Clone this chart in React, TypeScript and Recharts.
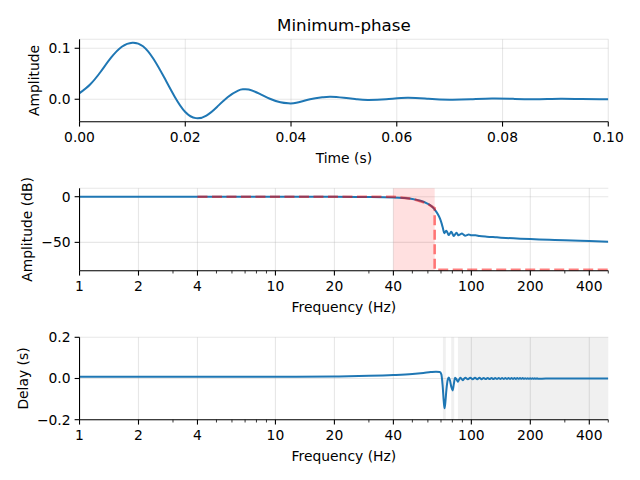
import React from "react";
import {
  LineChart,
  Line,
  XAxis,
  YAxis,
  CartesianGrid,
  ReferenceArea,
  Label,
} from "recharts";

// impulse response
const timeS = [
  0, 0.002, 0.004, 0.006, 0.008, 0.01, 0.012, 0.014, 0.016, 0.018, 0.02, 0.022,
  0.024, 0.026, 0.028, 0.03, 0.031, 0.032, 0.034, 0.036, 0.038, 0.0395, 0.041,
  0.0436, 0.046, 0.0475, 0.05, 0.0525, 0.0545, 0.058, 0.062, 0.066, 0.07, 0.074,
  0.078, 0.082, 0.086, 0.091, 0.095, 0.1,
];
const impulseAmp = [
  0.012, 0.029, 0.054, 0.082, 0.103, 0.111, 0.104, 0.079, 0.043, 0.005, -0.025,
  -0.037, -0.032, -0.015, 0.004, 0.017, 0.0195, 0.019, 0.011, 0.001, -0.006,
  -0.008, -0.007, 0.0, 0.004, 0.005, 0.003, 0.0, -0.0014, 0.0, 0.003, 0.001,
  -0.0008, 0.0, 0.0015, 0.0008, 0.0, 0.001, 0.0003, 0.0,
];
const timeTicks = [0, 0.02, 0.04, 0.06, 0.08, 0.1];
const impulseTicks = [0, 0.1];

// magnitude response
const magFreqHz = [
  1, 10, 20, 30, 40, 45, 50, 55, 59.3, 62, 64.1, 66, 68, 69.5, 70.7, 71.8, 72.7,
  73.6, 74.5, 75.6, 76.7, 77.9, 79, 80.1, 81.2, 82.5, 83.9, 85, 86, 87.7, 89.5,
  91.2, 93, 95, 97, 100, 105, 110, 120, 135, 150, 178, 200, 250, 300, 400, 500,
];
const magDb = [
  0, 0, -0.1, -0.3, -0.8, -1.4, -2.4, -4.5, -7.2, -9.6, -12.5, -16, -20.5, -25,
  -30, -35.5, -40, -38.5, -37.3, -39.5, -42, -40, -38.4, -40.5, -43, -41.5,
  -39.5, -41, -42.3, -41.2, -40.2, -41.5, -42.7, -42, -41.3, -42.3, -42.2, -43,
  -43.8, -44.5, -45.2, -46, -46.4, -47.2, -47.8, -48.6, -49.2,
];
const idealFreqHz = [4, 40, 50, 59.3, 65, 65, 500];
const idealDb = [0, 0, -2.4, -7.2, -12.7, -80, -80];
const transitionBandHz = [40, 65];
const dbTicks = [-50, 0];

// group delay
const delayFreqHz = [
  1, 10, 20, 30, 40, 50, 57, 62, 66, 69, 70.3, 71.3, 72.3, 73, 73.7, 74.6, 75.8,
  76.7, 77.8, 79, 80.2, 81.3, 82.6, 84, 85.4, 86.6, 87.8, 89.1, 90.4, 91.8, 93.2,
  96, 98.8, 101.6, 104.4, 107.2, 110, 112.8, 115.6, 118.4, 121.2, 124, 126.8,
  129.6, 132.4, 135.2, 138, 140.8, 143.6, 146.4, 149.2, 152, 154.8, 157.6, 160.4,
  163.2, 166, 168.8, 171.6, 174.4, 177.2, 180, 182.8, 185.6, 188.4, 191.2, 194,
  196.8, 199.6, 202.4, 205.2, 208, 210.8, 213.6, 216.4, 219.2, 240, 300, 400,
  500,
];
const delayS = [
  0.008, 0.0085, 0.01, 0.013, 0.017, 0.022, 0.027, 0.031, 0.033, 0.032, 0.02,
  -0.03, -0.11, -0.145, -0.115, -0.055, -0.005, 0.005, -0.01, -0.04, -0.058,
  -0.03, 0.004, -0.004, -0.016, -0.005, 0.004, -0.002, -0.008, -0.001, 0.004,
  -0.004, 0.004, -0.004, 0.0035, -0.0035, 0.0035, -0.0035, 0.003, -0.003, 0.003,
  -0.003, 0.003, -0.003, 0.0025, -0.0025, 0.0025, -0.0025, 0.002, -0.002, 0.002,
  -0.002, 0.002, -0.002, 0.002, -0.002, 0.002, -0.002, 0.0018, -0.0018, 0.0018,
  -0.0018, 0.0018, -0.0018, 0.0016, -0.0016, 0.0016, -0.0016, 0.0016, -0.0016,
  0.0015, -0.0015, 0.0015, -0.0015, 0.0015, -0.0015, 0, 0, 0, 0,
];
const lowGainBandsHz = [
  [71.6, 74.1],
  [78.9, 81.8],
  [85.4, 500],
];
const delayTicks = [-0.2, 0, 0.2];

const freqMajorTicks = [1, 2, 4, 10, 20, 40, 100, 200, 400];
const freqMinorTicks = [3, 5, 6, 7, 8, 9, 30, 50, 60, 70, 80, 90, 300, 500];

const impulseRows = timeS.map((t, i) => ({ t, amp: impulseAmp[i] }));
const magRows = magFreqHz.map((f, i) => ({ f, db: magDb[i] }));
const idealRows = idealFreqHz.map((f, i) => ({ f, db: idealDb[i] }));
const delayRows = delayFreqHz.map((f, i) => ({ f, d: delayS[i] }));
const freqAllTicks = [...freqMajorTicks, ...freqMinorTicks].sort((a, b) => a - b);

const FONT = '"DejaVu Sans", sans-serif';
const FS = 13.9;
const BLUE = "#1f77b4";
const PLOT_H = 82.4;
const XAX_H = 45;
const RIGHT = 31.7;
const YAX_W = 79.5;

const minus = (s: string) => s.replace("-", "\u2212");

function makeXTick(majors: number[], format: (v: number) => string) {
  return (props: any) => {
    const { x, y, payload } = props;
    const v = payload.value;
    const major = majors.some((m) => Math.abs(m - v) < 1e-9);
    return (
      <g>
        <line
          x1={x}
          x2={x}
          y1={y}
          y2={y + (major ? 4.9 : 2.8)}
          stroke="#000"
          strokeWidth={major ? 1.1 : 0.8}
        />
        {major && (
          <text
            x={x}
            y={y + 9.7}
            dy="0.76em"
            textAnchor="middle"
            fontSize={FS}
            fill="#000"
            fontFamily={FONT}
          >
            {format(v)}
          </text>
        )}
      </g>
    );
  };
}

const xLabel = (text: string, cy: number) => () => (
  <text
    x={YAX_W + (640 - RIGHT - YAX_W) / 2}
    y={cy}
    textAnchor="middle"
    dominantBaseline="central"
    fontSize={FS}
    fill="#000"
    fontFamily={FONT}
  >
    {text}
  </text>
);

const yLabel = (text: string, cx: number, cy: number) => () => (
  <text
    x={cx}
    y={cy}
    transform={`rotate(-90, ${cx}, ${cy})`}
    textAnchor="middle"
    dominantBaseline="central"
    fontSize={FS}
    fill="#000"
    fontFamily={FONT}
  >
    {text}
  </text>
);

const yTickProps = {
  tick: { fill: "#000", fontSize: FS, fontFamily: FONT },
  tickLine: { stroke: "#000", strokeWidth: 1.1 },
  axisLine: { stroke: "#000", strokeWidth: 1.1 },
  tickSize: 4.9,
  tickMargin: 4,
  interval: 0 as const,
  width: YAX_W,
};

const gridProps = {
  stroke: "#b0b0b0",
  strokeOpacity: 0.3,
  strokeWidth: 1.1,
};

const timeTick = makeXTick(timeTicks, (v) => v.toFixed(2));
const freqTick = makeXTick(freqMajorTicks, (v) => String(v));

export default function App() {
  const top1 = 39.3;
  const top2 = 20.3;
  return (
    <div
      style={{
        position: "absolute",
        left: 0,
        top: 0,
        width: 640,
        height: 480,
        background: "#fff",
        fontFamily: FONT,
      }}
    >
      <div
        style={{
          position: "absolute",
          left: YAX_W,
          width: 640 - RIGHT - YAX_W,
          top: 15,
          lineHeight: "20px",
          fontSize: 16.7,
          textAlign: "center",
          color: "#000",
        }}
      >
        Minimum-phase
      </div>

      <div style={{ position: "absolute", left: 0, top: 0 }}>
        <LineChart
          width={640}
          height={top1 + PLOT_H + XAX_H}
          margin={{ top: top1, right: RIGHT, bottom: 0, left: 0 }}
        >
          <CartesianGrid {...gridProps} />
          <XAxis
            dataKey="t"
            type="number"
            domain={[0, 0.1]}
            ticks={timeTicks}
            interval={0}
            tickSize={0}
            tickMargin={0}
            tickLine={false}
            tick={timeTick}
            axisLine={{ stroke: "#000", strokeWidth: 1.1 }}
            height={XAX_H}
            allowDataOverflow
          >
            <Label content={xLabel("Time (s)", top1 + PLOT_H + 36.5)} />
          </XAxis>
          <YAxis
            type="number"
            domain={[-0.044, 0.1176]}
            ticks={impulseTicks}
            tickFormatter={(v: number) => minus(v.toFixed(1))}
            allowDataOverflow
            {...yTickProps}
          >
            <Label content={yLabel("Amplitude", 34, top1 + PLOT_H / 2)} />
          </YAxis>
          <Line
            data={impulseRows}
            dataKey="amp"
            type="natural"
            stroke={BLUE}
            strokeWidth={2}
            dot={false}
            isAnimationActive={false}
          />
        </LineChart>
      </div>

      <div style={{ position: "absolute", left: 0, top: 168 }}>
        <LineChart
          width={640}
          height={top2 + PLOT_H + XAX_H}
          margin={{ top: top2, right: RIGHT, bottom: 0, left: 0 }}
        >
          <CartesianGrid {...gridProps} verticalValues={freqMajorTicks} />
          <XAxis
            dataKey="f"
            type="number"
            scale="log"
            domain={[1, 500]}
            ticks={freqAllTicks}
            interval={0}
            tickSize={0}
            tickMargin={0}
            tickLine={false}
            tick={freqTick}
            axisLine={{ stroke: "#000", strokeWidth: 1.1 }}
            height={XAX_H}
            allowDataOverflow
          >
            <Label content={xLabel("Frequency (Hz)", top2 + PLOT_H + 36.5)} />
          </XAxis>
          <YAxis
            type="number"
            domain={[-81, 9.2]}
            ticks={dbTicks}
            tickFormatter={(v: number) => minus(String(v))}
            allowDataOverflow
            {...yTickProps}
          >
            <Label content={yLabel("Amplitude (dB)", 27, top2 + PLOT_H / 2)} />
          </YAxis>
          <ReferenceArea
            x1={transitionBandHz[0]}
            x2={transitionBandHz[1]}
            fill="#ff0000"
            fillOpacity={0.12}
            stroke="none"
          />
          <Line
            data={magRows}
            dataKey="db"
            type="monotone"
            stroke={BLUE}
            strokeWidth={2}
            dot={false}
            isAnimationActive={false}
          />
          <Line
            data={idealRows}
            dataKey="db"
            type="linear"
            stroke="#ff0000"
            strokeOpacity={0.5}
            strokeWidth={2.6}
            strokeDasharray="10 4.5"
            dot={false}
            isAnimationActive={false}
          />
        </LineChart>
      </div>

      <div style={{ position: "absolute", left: 0, top: 317 }}>
        <LineChart
          width={640}
          height={top2 + PLOT_H + XAX_H}
          margin={{ top: top2, right: RIGHT, bottom: 0, left: 0 }}
        >
          <CartesianGrid {...gridProps} verticalValues={freqMajorTicks} />
          <XAxis
            dataKey="f"
            type="number"
            scale="log"
            domain={[1, 500]}
            ticks={freqAllTicks}
            interval={0}
            tickSize={0}
            tickMargin={0}
            tickLine={false}
            tick={freqTick}
            axisLine={{ stroke: "#000", strokeWidth: 1.1 }}
            height={XAX_H}
            allowDataOverflow
          >
            <Label content={xLabel("Frequency (Hz)", top2 + PLOT_H + 36.5)} />
          </XAxis>
          <YAxis
            type="number"
            domain={[-0.2, 0.2]}
            ticks={delayTicks}
            tickFormatter={(v: number) => minus(v.toFixed(1))}
            allowDataOverflow
            {...yTickProps}
          >
            <Label content={yLabel("Delay (s)", 23, top2 + PLOT_H / 2)} />
          </YAxis>
          {lowGainBandsHz.map(([a, b], i) => (
            <ReferenceArea
              key={i}
              x1={a}
              x2={b}
              fill="#000"
              fillOpacity={0.06}
              stroke="none"
            />
          ))}
          <Line
            data={delayRows}
            dataKey="d"
            type="monotone"
            stroke={BLUE}
            strokeWidth={2}
            dot={false}
            isAnimationActive={false}
          />
        </LineChart>
      </div>
    </div>
  );
}
